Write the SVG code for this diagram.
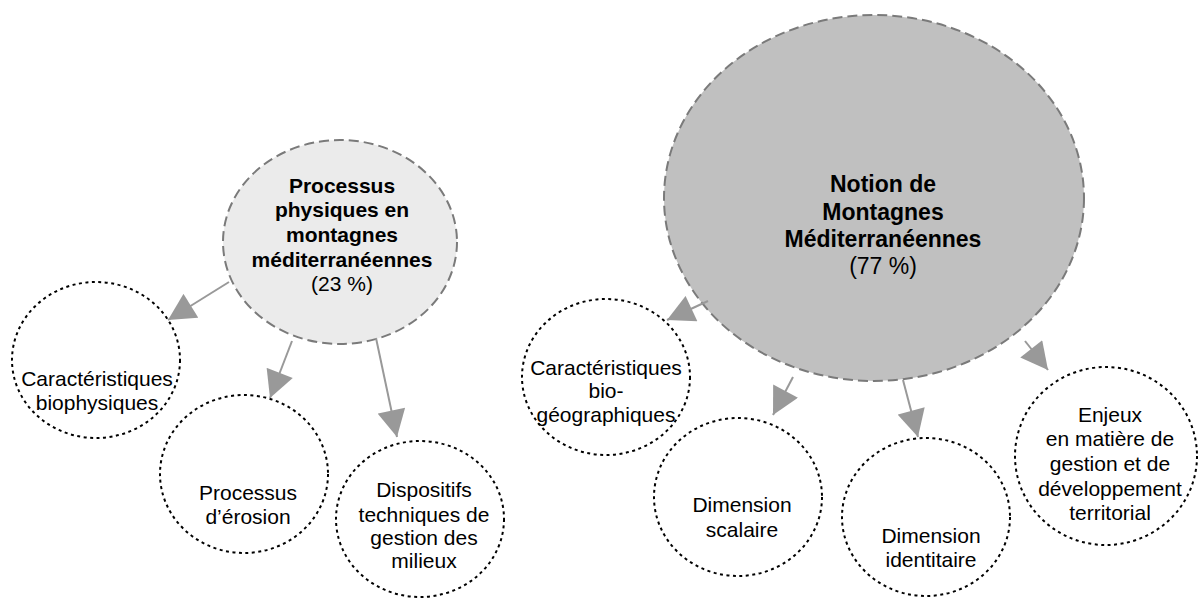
<svg xmlns="http://www.w3.org/2000/svg" width="1198" height="599" viewBox="0 0 1198 599">
<style>
text{font-family:"Liberation Sans",Arial,sans-serif;fill:#000;text-anchor:middle}
.b{font-weight:bold}
.big{font-size:21px}
.big2{font-size:23px}
.sm{font-size:21px}
.main{stroke:#7a7a7a;stroke-width:2;stroke-dasharray:10,5}
.child{fill:#fff;stroke:#000;stroke-width:2;stroke-dasharray:3,3.5}
.con{stroke:#999;stroke-width:2;fill:none;marker-end:url(#ah)}
</style>
<defs>
<marker id="ah" markerUnits="userSpaceOnUse" markerWidth="28" markerHeight="28" viewBox="0 0 26 27" refX="26" refY="13.5" orient="auto">
<path d="M0,0 L26,13.5 L0,27 z" fill="#999"/>
</marker>
</defs>
<rect width="1198" height="599" fill="#fff"/>
<g id="n-processus-physiques">
<ellipse cx="340" cy="242" rx="117" ry="102" fill="#ebebeb" class="main"/>
<text class="b big" x="342" y="193">Processus</text>
<text class="b big" x="342" y="217">physiques en</text>
<text class="b big" x="342" y="242">montagnes</text>
<text class="b big" x="342" y="267">méditerranéennes</text>
<text class="big" x="342" y="291">(23 %)</text>
</g>
<g id="n-notion">
<ellipse cx="874" cy="198" rx="210" ry="183" fill="#c0c0c0" class="main"/>
<text class="b big2" x="883" y="192">Notion de</text>
<text class="b big2" x="883" y="220">Montagnes</text>
<text class="b big2" x="883" y="247">Méditerranéennes</text>
<text class="big2" x="883" y="274">(77 %)</text>
</g>
<g id="n-carac-biophys">
<ellipse cx="96" cy="360" rx="84" ry="78" class="child"/>
<text class="sm" x="97" y="386">Caractéristiques</text>
<text class="sm" x="97" y="410">biophysiques</text>
</g>
<g id="n-erosion">
<ellipse cx="244" cy="474" rx="84" ry="79" class="child"/>
<text class="sm" x="248" y="500">Processus</text>
<text class="sm" x="248" y="524">d’érosion</text>
</g>
<g id="n-dispositifs">
<ellipse cx="420" cy="519" rx="84" ry="78" class="child"/>
<text class="sm" x="424" y="497">Dispositifs</text>
<text class="sm" x="424" y="522">techniques de</text>
<text class="sm" x="424" y="545">gestion des</text>
<text class="sm" x="424" y="568">milieux</text>
</g>
<g id="n-carac-biogeo">
<ellipse cx="606" cy="377" rx="84" ry="78" class="child"/>
<text class="sm" x="606" y="375">Caractéristiques</text>
<text class="sm" x="606" y="398">bio-</text>
<text class="sm" x="606" y="422">géographiques</text>
</g>
<g id="n-scalaire">
<ellipse cx="738" cy="497" rx="84" ry="79" class="child"/>
<text class="sm" x="742" y="512">Dimension</text>
<text class="sm" x="742" y="537">scalaire</text>
</g>
<g id="n-identitaire">
<ellipse cx="926" cy="517" rx="84" ry="79" class="child"/>
<text class="sm" x="931" y="543">Dimension</text>
<text class="sm" x="931" y="567">identitaire</text>
</g>
<g id="n-enjeux">
<ellipse cx="1106" cy="456" rx="91" ry="89" class="child"/>
<text class="sm" x="1110" y="422">Enjeux</text>
<text class="sm" x="1110" y="446">en matière de</text>
<text class="sm" x="1110" y="471">gestion et de</text>
<text class="sm" x="1110" y="496">développement</text>
<text class="sm" x="1110" y="520">territorial</text>
</g>
<g id="connectors">
<line class="con" x1="229" y1="282" x2="168" y2="320"/>
<line class="con" x1="292" y1="341" x2="270" y2="398"/>
<line class="con" x1="376" y1="338" x2="397" y2="437"/>
<line class="con" x1="708" y1="301" x2="667" y2="320"/>
<line class="con" x1="793" y1="377" x2="773" y2="415"/>
<line class="con" x1="903" y1="380" x2="918" y2="437"/>
<line class="con" x1="1025" y1="341" x2="1048" y2="370"/>
</g>
</svg>
